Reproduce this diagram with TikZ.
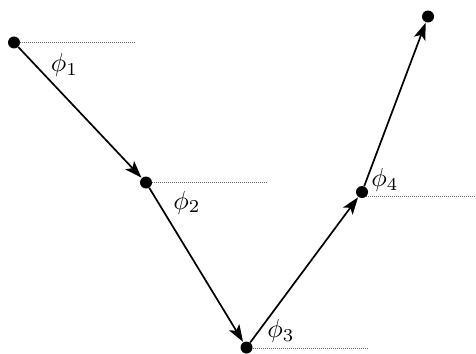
\documentclass[tikz,border=0pt]{standalone}
\usepackage{tikz}
\usetikzlibrary{positioning, arrows.meta}
\newcommand{\anglelabel}[1]{\scalebox{2.6}{$\phi_{#1}$}}
\tikzset{
    dot_style/.style={
        circle,               % filled black point
        fill=black,
        inner sep=0pt,
        minimum size=12pt
    },
    arrow_style/.style={
        -{Stealth[length=17pt, width=12pt, inset=4pt]},
        line width=1.7pt,
        shorten >=0.5pt
    },
    ref_style/.style={
        densely dotted,       % horizontal reference line
        black!60,
        line width=1pt
    },
    angle_style/.style={
        inner sep=0pt
    }
}

\begin{document}
\begin{tikzpicture}[x=1pt, y=-1pt]
            \useasboundingbox (0,0) rectangle (476,353);
            % 1. points
            \node[dot_style] (p1) at (14,42.5) {};
            \node[dot_style] (p2) at (146,182.5) {};
            \node[dot_style] (p3) at (246.5,347.5) {};
            \node[dot_style] (p4) at (362,192) {};
            \node[dot_style] (p5) at (428,16.5) {};

            % 2. reference line ends
            \coordinate (h1) at (135,42.5);
            \coordinate (h2) at (267,182.5);
            \coordinate (h3) at (368,348.5);
            \coordinate (h4) at (476,196);

            \draw[ref_style] (p1) -- (h1);
            \draw[ref_style] (p2) -- (h2);
            \draw[ref_style] (p3.east |- h3) -- (h3);
            \draw[ref_style] (p4.south east |- h4) -- (h4);

            % 3. path
            \draw[arrow_style] (p1) -- (p2);
            \draw[arrow_style] (p2) -- (p3);
            \draw[arrow_style] (p3) -- (p4);
            \draw[arrow_style] (p4) -- (p5);

            % 4. angle labels
            \node[angle_style] (phi1) at (64.5,65) {\anglelabel{1}};
            \node[angle_style] (phi2) at (187,202.5) {\anglelabel{2}};
            \node[angle_style] (phi3) at (281,331) {\anglelabel{3}};
            \node[angle_style] (phi4) at (385,180) {\anglelabel{4}};
        \end{tikzpicture}
\end{document}
